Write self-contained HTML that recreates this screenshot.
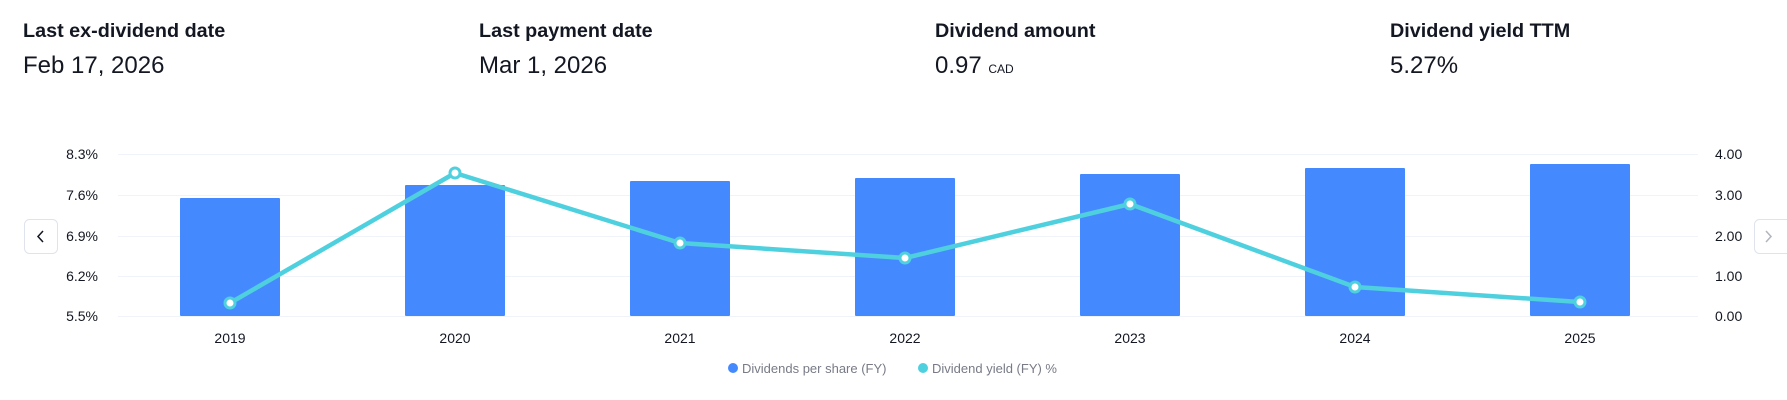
<!DOCTYPE html>
<html><head><meta charset="utf-8"><style>
body{margin:0;width:1787px;height:400px;background:#fff;font-family:"Liberation Sans",sans-serif;color:#131722;position:relative;overflow:hidden}
.t{position:absolute;top:20px;font-size:19.8px;font-weight:bold}
.v{position:absolute;top:52px;font-size:24px}
.v small{font-size:12px}
</style></head><body>
<div class="t" style="left:23px">Last ex-dividend date</div>
<div class="v" style="left:23px">Feb 17, 2026</div>
<div class="t" style="left:479px">Last payment date</div>
<div class="v" style="left:479px">Mar 1, 2026</div>
<div class="t" style="left:935px">Dividend amount</div>
<div class="v" style="left:935px">0.97 <small>CAD</small></div>
<div class="t" style="left:1390px">Dividend yield TTM</div>
<div class="v" style="left:1390px">5.27%</div>
<svg width="1787" height="400" style="position:absolute;left:0;top:0" font-family="Liberation Sans, sans-serif">
<g stroke="#f0f3fa" stroke-width="1">
<line x1="118" x2="1698" y1="154.5" y2="154.5"/><line x1="118" x2="1698" y1="195.5" y2="195.5"/><line x1="118" x2="1698" y1="236.5" y2="236.5"/><line x1="118" x2="1698" y1="276.5" y2="276.5"/><line x1="118" x2="1698" y1="316.5" y2="316.5"/>
</g>
<g font-size="14" fill="#131722" text-anchor="end">
<text x="98" y="159">8.3%</text><text x="98" y="200">7.6%</text><text x="98" y="241">6.9%</text><text x="98" y="281">6.2%</text><text x="98" y="321">5.5%</text>
</g>
<g font-size="14" fill="#131722">
<text x="1715" y="159">4.00</text><text x="1715" y="200">3.00</text><text x="1715" y="241">2.00</text><text x="1715" y="281">1.00</text><text x="1715" y="321">0.00</text>
</g>
<g fill="#4589ff">
<rect x="180" y="198" width="100" height="118" rx="1"/>
<rect x="405" y="185" width="100" height="131" rx="1"/>
<rect x="630" y="181" width="100" height="135" rx="1"/>
<rect x="855" y="178" width="100" height="138" rx="1"/>
<rect x="1080" y="174" width="100" height="142" rx="1"/>
<rect x="1305" y="168" width="100" height="148" rx="1"/>
<rect x="1530" y="164" width="100" height="152" rx="1"/>
</g>
<polyline points="230,303 455,173 680,243 905,258 1130,204 1355,287 1580,302" fill="none" stroke="#4fd0df" stroke-width="4.5" stroke-linejoin="round"/>
<g fill="#fff" stroke="#4fd0df" stroke-width="3">
<circle cx="230" cy="303" r="5"/><circle cx="455" cy="173" r="5"/><circle cx="680" cy="243" r="5"/><circle cx="905" cy="258" r="5"/><circle cx="1130" cy="204" r="5"/><circle cx="1355" cy="287" r="5"/><circle cx="1580" cy="302" r="5"/>
</g>
<g font-size="14" fill="#131722" text-anchor="middle">
<text x="230" y="343">2019</text><text x="455" y="343">2020</text><text x="680" y="343">2021</text><text x="905" y="343">2022</text><text x="1130" y="343">2023</text><text x="1355" y="343">2024</text><text x="1580" y="343">2025</text>
</g>
<circle cx="733" cy="368" r="5" fill="#4589ff"/>
<text x="742" y="373" font-size="13" fill="#787b86">Dividends per share (FY)</text>
<circle cx="923" cy="368" r="5" fill="#4fd0df"/>
<text x="932" y="373" font-size="13" fill="#787b86">Dividend yield (FY) %</text>
<rect x="24.5" y="219.5" width="33" height="34" rx="5" fill="#fff" stroke="#e0e3eb"/>
<path d="M43 231 L38 236.5 L43 242" fill="none" stroke="#131722" stroke-width="1.5"/>
<rect x="1754.5" y="219.5" width="40" height="34" rx="5" fill="#fff" stroke="#e0e3eb"/>
<path d="M1766 231 L1771 236.5 L1766 242" fill="none" stroke="#b2b5be" stroke-width="1.5"/>
</svg>
</body></html>
